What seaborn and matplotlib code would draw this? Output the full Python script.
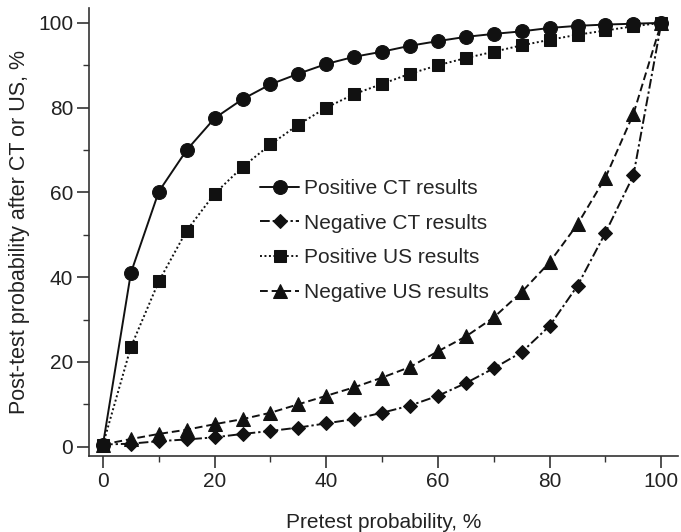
import numpy as np
import pandas as pd
import matplotlib
matplotlib.use('Agg')
import matplotlib.pyplot as plt
import seaborn as sns
from matplotlib.ticker import MultipleLocator

pretest = [0, 5, 10, 15, 20, 25, 30, 35, 40, 45, 50, 55, 60, 65, 70, 75, 80, 85, 90, 95, 100]
pos_ct = [0.5, 41, 60.2, 70, 77.5, 82, 85.5, 88, 90.3, 92, 93.2, 94.6, 95.7, 96.7, 97.4, 98, 98.8, 99.3, 99.6, 99.8, 100]
neg_ct = [0.5, 0.7, 1.3, 1.7, 2.2, 3, 3.7, 4.5, 5.5, 6.5, 8, 9.7, 12, 15, 18.5, 22.3, 28.5, 38, 50.5, 64, 100]
pos_us = [0.5, 23.5, 39, 51, 59.7, 66, 71.3, 76, 80, 83.2, 85.6, 88, 90, 91.7, 93.2, 94.7, 96, 97.2, 98.2, 99.2, 100]
neg_us = [0.5, 1.8, 3, 4, 5.3, 6.5, 8, 10, 12, 14, 16.3, 18.8, 22.5, 26, 30.5, 36.5, 43.5, 52.5, 63.5, 78.5, 100]

series_names = ['Positive CT results', 'Negative CT results', 'Positive US results', 'Negative US results']
series_vals = [pos_ct, neg_ct, pos_us, neg_us]

df = pd.concat([pd.DataFrame({'x': pretest, 'y': v, 'series': n})
                for n, v in zip(series_names, series_vals)], ignore_index=True)

markers = {'Positive CT results': 'o', 'Negative CT results': 'D',
           'Positive US results': 's', 'Negative US results': '^'}
dashes = {'Positive CT results': '', 'Negative CT results': (5, 1.5, 1.2, 1.5),
          'Positive US results': (1, 1.3), 'Negative US results': (4, 2)}
msizes = {'Positive CT results': 10, 'Negative CT results': 7,
          'Positive US results': 9, 'Negative US results': 10}

sns.set_style('ticks')
plt.rcParams['font.family'] = ['Liberation Sans', 'DejaVu Sans']

fig = plt.figure(figsize=(6.81, 5.32), dpi=100)
ax = fig.add_axes([0.1307, 0.1429, 0.865, 0.842])

sns.lineplot(data=df, x='x', y='y', hue='series', style='series',
             hue_order=series_names, style_order=series_names,
             palette=['#111111'] * 4, markers=markers, dashes=dashes,
             linewidth=1.4, markeredgecolor='#111111', ax=ax)

for i, line in enumerate(ax.lines[:4]):
    line.set_markersize(msizes[series_names[i]])

ax.set_xlim(-2.5, 103)
ax.set_ylim(-2.2, 103.5)
ax.xaxis.set_major_locator(MultipleLocator(20))
ax.xaxis.set_minor_locator(MultipleLocator(10))
ax.yaxis.set_major_locator(MultipleLocator(20))
ax.yaxis.set_minor_locator(MultipleLocator(10))
ax.tick_params(which='major', length=8.5, width=1.2, pad=3, colors='#333333',
               labelsize=15, labelcolor='#222222')
ax.tick_params(which='minor', length=4.5, width=1.0, colors='#333333')
sns.despine(ax=ax)
for s in ['left', 'bottom']:
    ax.spines[s].set_color('#333333')
    ax.spines[s].set_linewidth(1.2)

ax.set_xlabel('Pretest probability, %', fontsize=15, color='#222222', labelpad=16)
ax.set_ylabel('Post-test probability after CT or US, %', fontsize=15.5, color='#222222', labelpad=6)

handles, labels = ax.get_legend_handles_labels()
for h, l in zip(handles, labels):
    if l in msizes:
        h.set_markersize(msizes[l])
ax.legend(handles, labels, loc='upper left', bbox_to_anchor=(0.29, 0.618), frameon=False,
          fontsize=15, handlelength=1.9, handletextpad=0.2, labelspacing=0.75, borderaxespad=0,
          borderpad=0)

fig.savefig('out.png', dpi=100)
